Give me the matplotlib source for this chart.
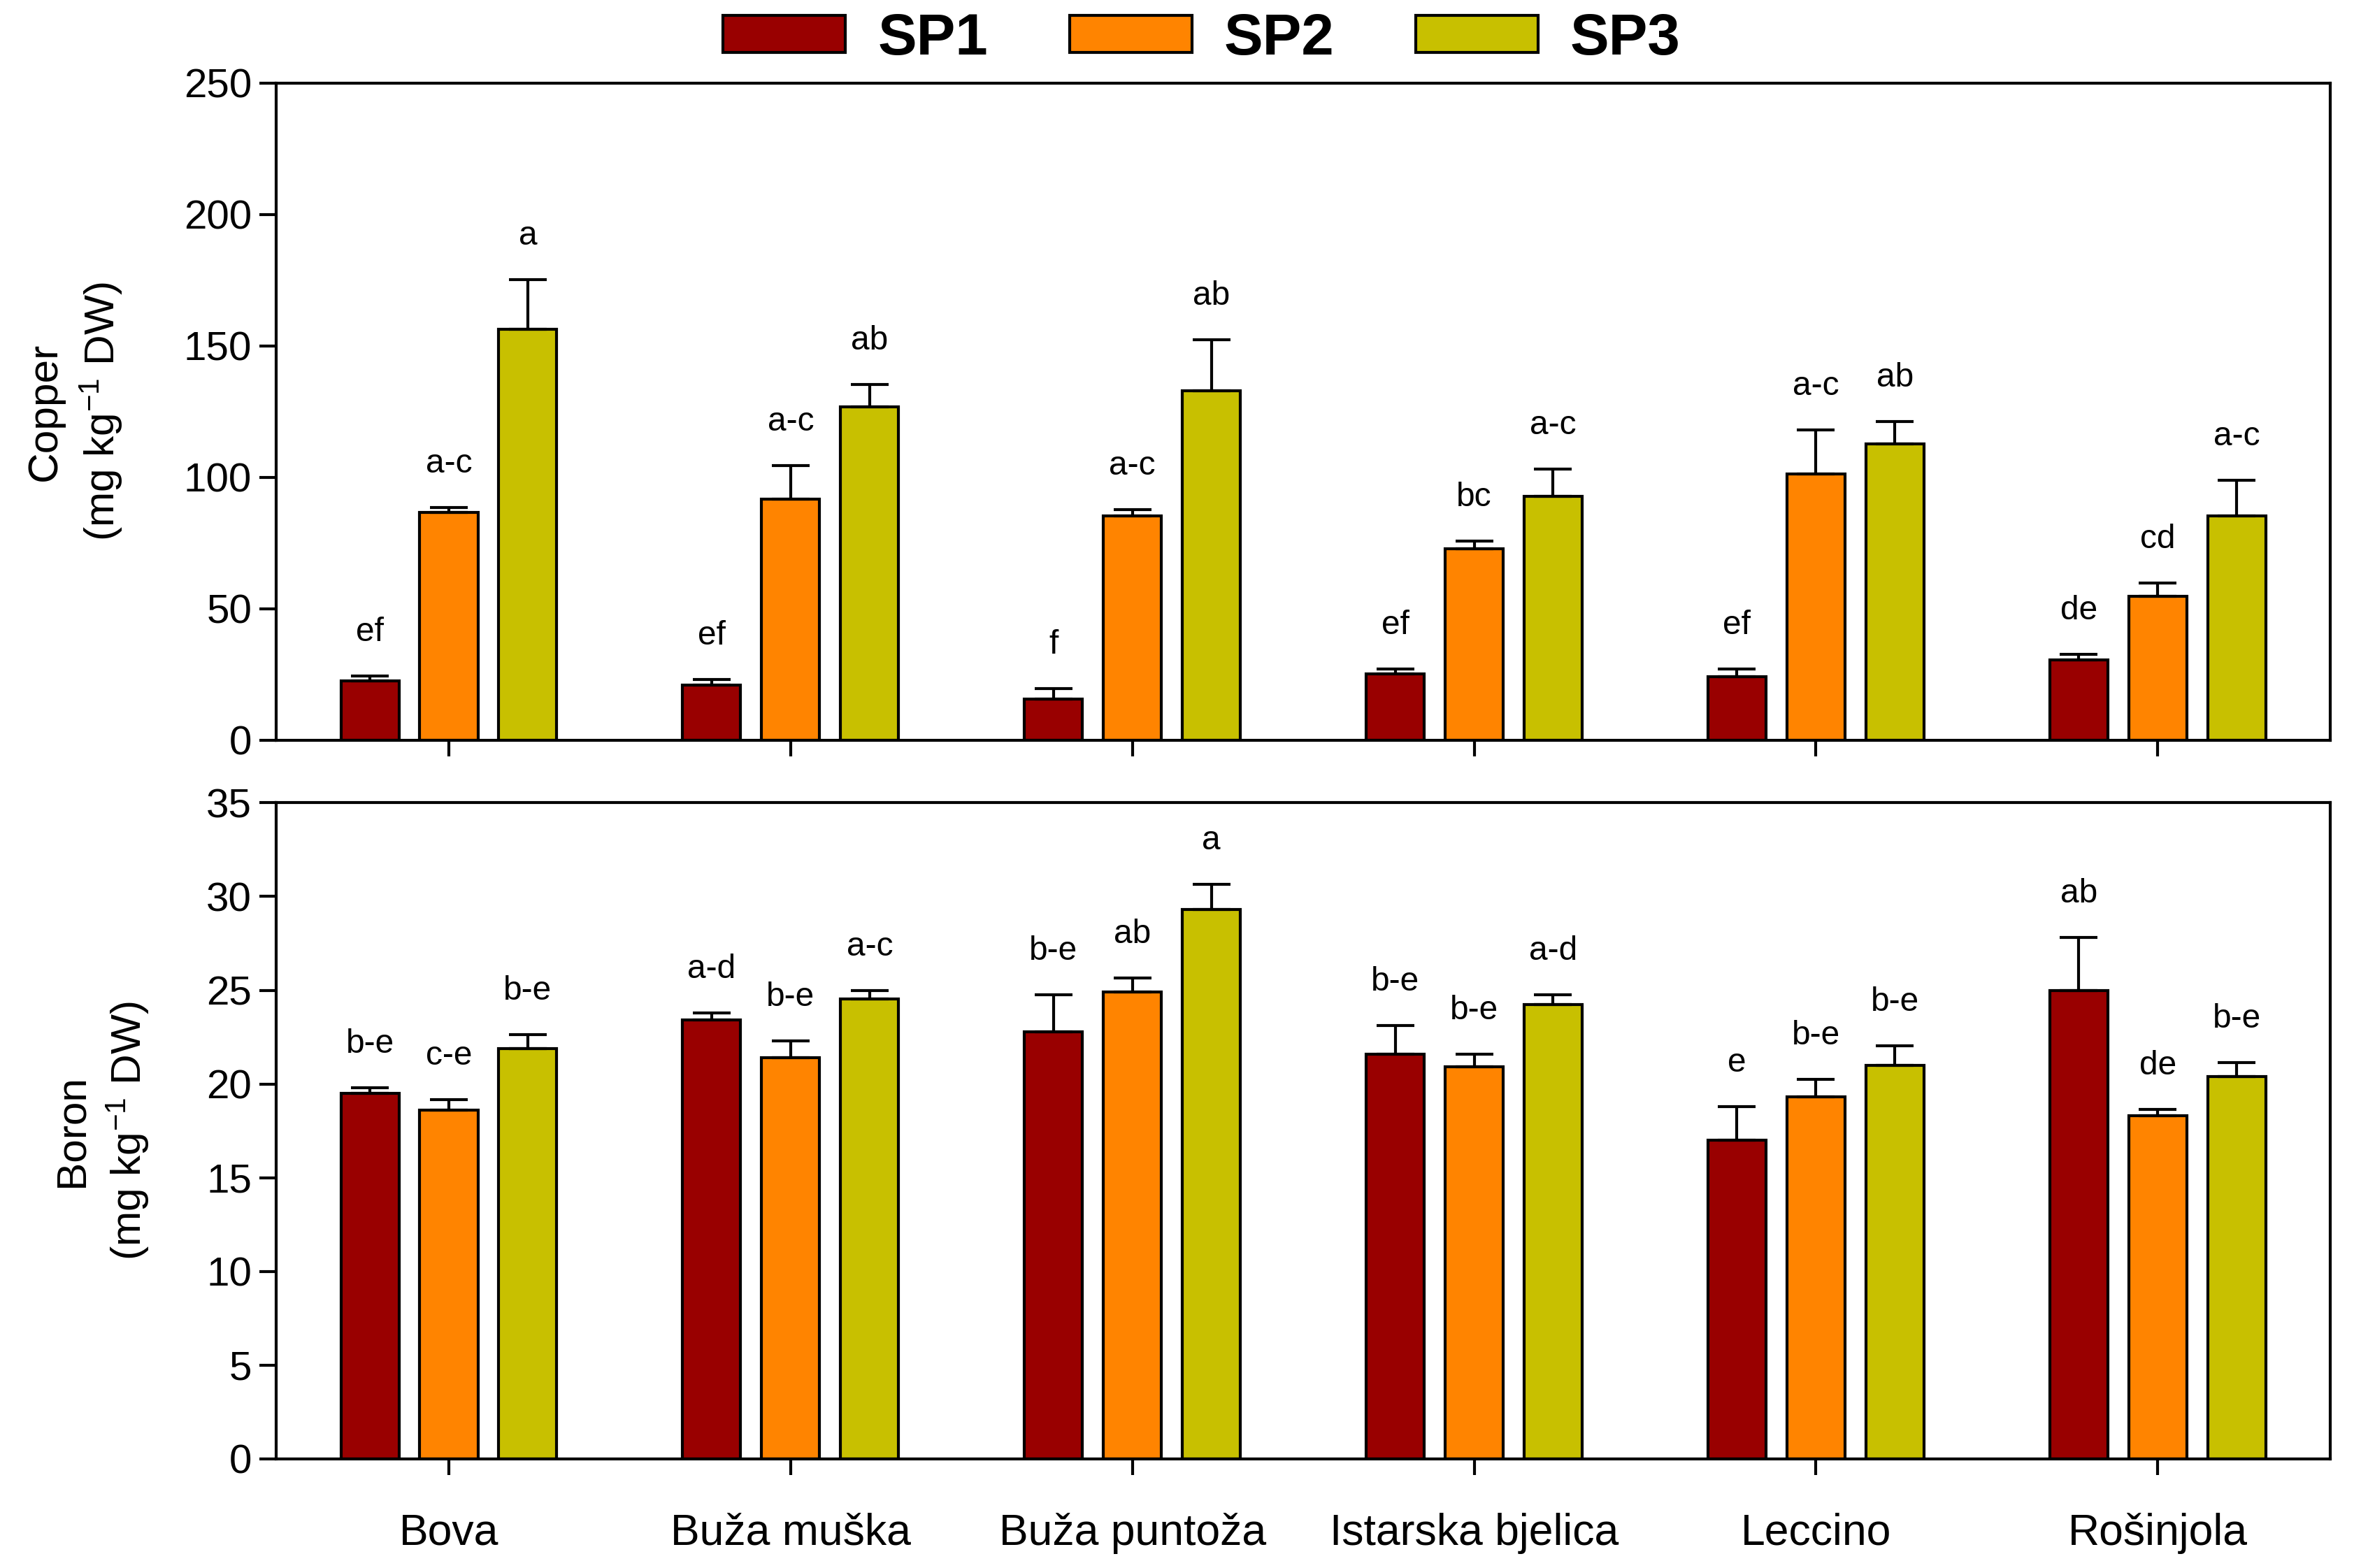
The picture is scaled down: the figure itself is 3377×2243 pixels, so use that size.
import numpy as np
import matplotlib
matplotlib.use('Agg')
import matplotlib.pyplot as plt

plt.rcParams['mathtext.fontset'] = 'custom'
plt.rcParams['mathtext.rm'] = 'Liberation Sans'

NARROW = ['Liberation Sans Narrow', 'Liberation Sans', 'DejaVu Sans']
ARIAL = ['Liberation Sans', 'DejaVu Sans']

cultivars = ['Bova', 'Buža muška', 'Buža puntoža', 'Istarska bjelica', 'Leccino', 'Rošinjola']
series = ['SP1', 'SP2', 'SP3']
colors = ['#990000', '#ff8400', '#c8c000']

# Copper (mg kg-1 DW)
cu_sp1 = [22.4, 20.9, 15.5, 25.2, 24.1, 30.4]
cu_sp1_err = [1.9, 2.1, 4.1, 1.9, 3.0, 2.2]
cu_sp2 = [86.6, 91.6, 85.4, 72.8, 101.3, 54.7]
cu_sp2_err = [2.0, 12.9, 2.3, 2.9, 16.8, 5.0]
cu_sp3 = [156.2, 126.7, 132.8, 92.7, 112.7, 85.4]
cu_sp3_err = [19.0, 8.6, 19.6, 10.5, 8.6, 13.5]
cu_letters_sp1 = ['ef', 'ef', 'f', 'ef', 'ef', 'de']
cu_letters_sp2 = ['a-c', 'a-c', 'a-c', 'bc', 'a-c', 'cd']
cu_letters_sp3 = ['a', 'ab', 'ab', 'a-c', 'ab', 'a-c']

# Boron (mg kg-1 DW)
b_sp1 = [19.5, 23.4, 22.8, 21.6, 17.0, 25.0]
b_sp1_err = [0.3, 0.4, 1.95, 1.5, 1.8, 2.8]
b_sp2 = [18.6, 21.4, 24.9, 20.9, 19.3, 18.3]
b_sp2_err = [0.55, 0.9, 0.75, 0.7, 0.95, 0.35]
b_sp3 = [21.9, 24.55, 29.3, 24.25, 21.0, 20.4]
b_sp3_err = [0.75, 0.45, 1.35, 0.5, 1.05, 0.75]
b_letters_sp1 = ['b-e', 'a-d', 'b-e', 'b-e', 'e', 'ab']
b_letters_sp2 = ['c-e', 'b-e', 'ab', 'b-e', 'b-e', 'de']
b_letters_sp3 = ['b-e', 'a-c', 'a', 'a-d', 'b-e', 'b-e']

fig = plt.figure(figsize=(3377 / 300, 2243 / 300), dpi=300)
ax1 = fig.add_axes([0.117, 0.528, 0.870, 0.419])
ax2 = fig.add_axes([0.117, 0.0696, 0.870, 0.4184])

x = np.arange(len(cultivars))
width = 0.17
offsets = [-0.231, 0, 0.231]


def draw_panel(ax, vals, errs, letters, ymax, step, ylabel, label_x):
    for i in range(3):
        ax.bar(x + offsets[i], vals[i], width, color=colors[i], edgecolor='black',
               linewidth=1.0, label=series[i], zorder=2)
        ax.errorbar(x + offsets[i], vals[i], yerr=[np.zeros(len(x)), errs[i]],
                    fmt='none', ecolor='black', elinewidth=1.0, capsize=6.5,
                    capthick=1.0, zorder=3)
        for xi, v, e, lab in zip(x + offsets[i], vals[i], errs[i], letters[i]):
            ax.annotate(lab, (xi, v + e), xytext=(0, 15), textcoords='offset points',
                        ha='center', va='center', fontsize=11.5, family=NARROW)
    ax.set_xlim(-0.505, 5.505)
    ax.set_ylim(0, ymax)
    ax.set_yticks(np.arange(0, ymax + 1, step))
    ax.set_xticks(x)
    for sp in ax.spines.values():
        sp.set_linewidth(1.0)
    ax.tick_params(axis='y', direction='out', length=5.8, width=1.0, pad=2.6,
                   labelsize=14)
    ax.tick_params(axis='x', direction='out', length=5.5, width=1.0, pad=13,
                   labelsize=15)
    for t in ax.get_yticklabels() + ax.get_xticklabels():
        t.set_family(NARROW)
    ax.set_ylabel(ylabel, fontsize=14.5, family=ARIAL, linespacing=1.35)
    ax.yaxis.set_label_coords(label_x, 0.5)


draw_panel(ax1, [cu_sp1, cu_sp2, cu_sp3], [cu_sp1_err, cu_sp2_err, cu_sp3_err],
           [cu_letters_sp1, cu_letters_sp2, cu_letters_sp3], 250, 50,
           'Copper\n(mg kg$\\mathregular{^{-1}}$ DW)', -0.074)
ax1.set_xticklabels([])

draw_panel(ax2, [b_sp1, b_sp2, b_sp3], [b_sp1_err, b_sp2_err, b_sp3_err],
           [b_letters_sp1, b_letters_sp2, b_letters_sp3], 35, 5,
           'Boron\n(mg kg$\\mathregular{^{-1}}$ DW)', -0.061)
ax2.set_xticklabels(cultivars)

fig.legend(*ax1.get_legend_handles_labels(), loc='center', bbox_to_anchor=(0.509, 0.975),
           ncol=3, frameon=False, handlelength=2.1, handleheight=0.6,
           handletextpad=0.55, columnspacing=1.4,
           prop={'family': NARROW, 'weight': 'bold', 'size': 20})

fig.savefig('out.png', dpi=300)
